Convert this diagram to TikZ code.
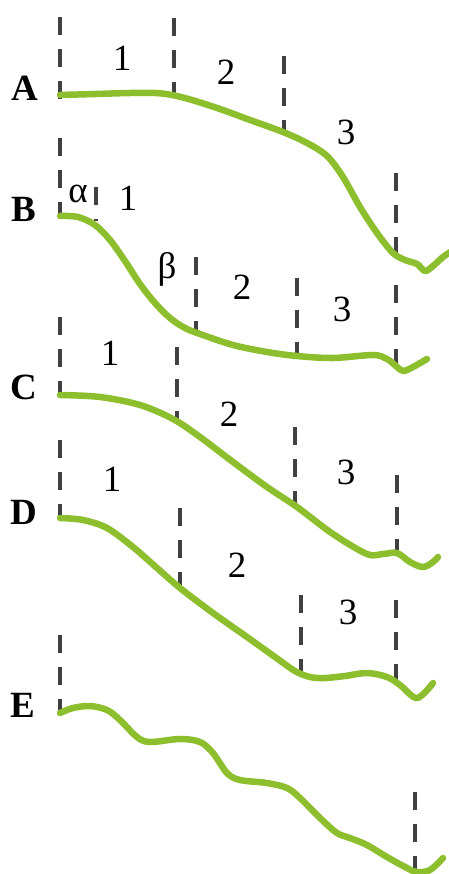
\documentclass[tikz,border=0pt]{standalone}
\usepackage{fontspec}
\setmainfont{Liberation Serif}
\definecolor{leaf}{RGB}{140,190,45}
\definecolor{guidegray}{RGB}{64,64,64}
\begin{document}
\begin{tikzpicture}[x=1pt,y=-1pt,
  curve/.style={draw=leaf,line width=6.5pt,line cap=round,line join=round},
  guide/.style={draw=guidegray,line width=3.5pt,dash pattern=on 18pt off 14pt},
  lab/.style={inner sep=0pt,font=\fontsize{37}{40}\selectfont\bfseries},
  num/.style={inner sep=0pt,font=\fontsize{37}{40}\selectfont}]
\useasboundingbox (0,0) rectangle (449,874);
% ---------- A ----------
\node[lab] (lA) at (25,88) {A};
\draw[guide] (60,17) -- (60,99);
\draw[guide] (174,18) -- (174,96);
\draw[guide] (284,56) -- (284,134);
\draw[guide] (396,173) -- (396,262);
\draw[curve] plot[smooth,tension=0.55] coordinates {(60,95) (95,94) (130,93) (155,93) (172,95) (192,100) (220,109) (250,120) (283,132) (307,143) (327,156) (343,177) (360,207) (377,233) (393,253) (405,260) (417,264) (425,271) (433,266) (443,257) (452,251)};
\node[num] (a1) at (122,58) {1};
\node[num] (a2) at (226,72) {2};
\node[num] (a3) at (346,132) {3};
% ---------- B ----------
\node[lab] (lB) at (24,209) {B};
\draw[guide] (60,138) -- (60,218);
\draw[guide] (96,187) -- (96,221);
\draw[guide] (196,257) -- (196,332);
\draw[guide] (297,278) -- (297,357);
\draw[guide] (396,285) -- (396,366);
\draw[curve] plot[smooth,tension=0.55] coordinates {(60,216) (78,217) (95,225) (110,240) (125,261) (140,284) (155,303) (170,318) (185,328) (200,334) (233,345) (267,352) (297,356) (333,358) (373,355) (387,359) (396,366) (403,371) (413,367) (427,359)};
\node[num] (ba) at (78,194) {α};
\node[num] (b1) at (128,198) {1};
\node[num] (bb) at (167,269) {β};
\node[num] (b2) at (242,287) {2};
\node[num] (b3) at (342,309) {3};
% ---------- C ----------
\node[lab] (lC) at (24,387) {C};
\draw[guide] (60,317) -- (60,397);
\draw[guide] (177,347) -- (177,420);
\draw[guide] (295,427) -- (295,506);
\draw[guide] (397,475) -- (397,555);
\draw[curve] plot[smooth,tension=0.55] coordinates {(60,395) (100,397) (140,405) (173,419) (200,437) (233,462) (267,487) (297,507) (333,534) (367,554) (383,554) (397,553) (410,562) (423,567) (433,562) (438,557)};
\node[num] (c1) at (110,353) {1};
\node[num] (c2) at (229,414) {2};
\node[num] (c3) at (346,472) {3};
% ---------- D ----------
\node[lab] (lD) at (24,512) {D};
\draw[guide] (60,440) -- (60,520);
\draw[guide] (180,508) -- (180,590);
\draw[guide] (301,595) -- (301,677);
\draw[guide] (396,600) -- (396,682);
\draw[curve] plot[smooth,tension=0.55] coordinates {(60,518) (83,520) (107,528) (133,547) (157,568) (180,588) (213,613) (247,637) (275,657) (295,671) (310,677) (325,678) (345,676) (367,673) (387,677) (400,685) (417,698) (433,683)};
\node[num] (d1) at (112,479) {1};
\node[num] (d2) at (237,565) {2};
\node[num] (d3) at (348,612) {3};
% ---------- E ----------
\node[lab] (lE) at (23,705) {E};
\draw[guide] (60,635) -- (60,715);
\draw[guide] (415,792) -- (415,872);
\draw[curve] plot[smooth,tension=0.55] coordinates {(60,713) (73,708) (90,706) (107,710) (120,720) (137,737) (150,742) (180,739) (200,742) (213,753) (227,773) (240,780) (267,783) (287,788) (300,798) (320,818) (337,833) (350,838) (367,845) (387,857) (407,868) (417,872) (430,870) (443,858)};
\end{tikzpicture}
\end{document}
